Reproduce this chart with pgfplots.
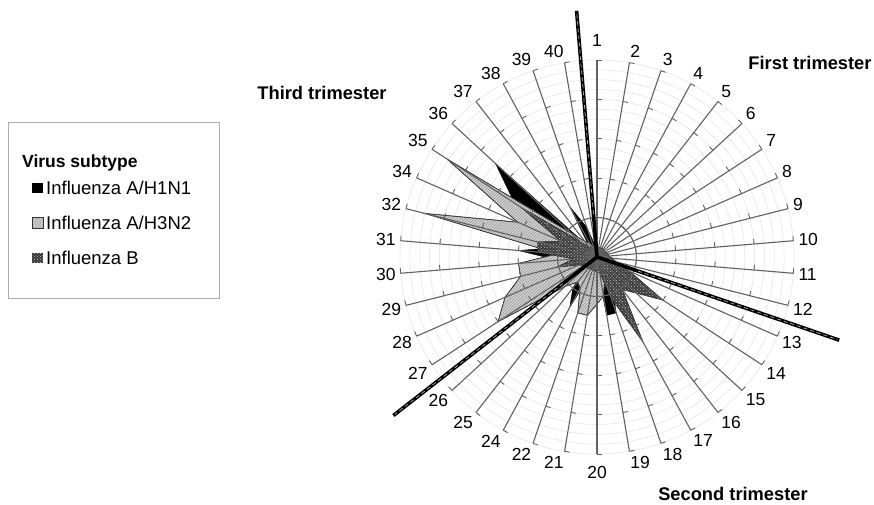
\documentclass[border=0pt]{standalone}
\usepackage{pgfplots}
\pgfplotsset{compat=1.18}
\usepackage{pgfplotstable}
\usepackage{fontspec}
\setmainfont{Liberation Sans}
\usetikzlibrary{patterns,calc}

% i = spoke index (0..37), clockwise from top; weeks 23 and 33 have no spoke
\pgfplotstableread{
i h1 h3 b
0 0.25 0.25 0.25
1 0.25 0.25 0.25
2 0.25 0.25 0.25
3 0.25 0.25 0.25
4 0.25 0.25 0.25
5 0.25 0.25 0.25
6 0.25 0.25 0.25
7 0.25 0.25 0.25
8 0.25 0.25 0.3
9 0.25 0.25 0.3
10 0.3 0.3 0.4
11 0.3 0.3 0.5
12 0.3 0.3 0.9
13 0.3 0.3 2.0
14 0.4 0.3 1.35
15 0.5 0.4 1.05
16 0.8 0.5 2.45
17 1.5 0.6 1.1
18 1.5 1.0 0.4
19 0.3 1.2 0.4
20 0.3 1.5 0.35
21 0.4 1.5 0.35
22 1.45 0.9 0.35
23 1.0 0.8 0.35
24 0.5 1.1 0.4
25 0.5 3.0 0.4
26 0.5 2.55 0.5
27 0.6 2.0 1.05
28 1.0 2.0 0.6
29 2.0 1.0 1.5
30 1.0 4.5 1.55
31 1.2 2.2 1.0
32 2.5 4.55 2.3
33 3.5 0.9 0.6
34 0.3 0.5 0.3
35 1.45 0.4 0.3
36 0.8 0.3 0.3
37 0.3 0.3 0.3
}\data

\begin{document}
\begin{tikzpicture}[x=1pt,y=1pt]
\begin{axis}[x=39.4pt, y=39.4pt, set layers,
  xmin=-6, xmax=6, ymin=-6, ymax=6, hide axis, clip=false]
\begin{pgfonlayer}{axis background}
  \pgfplotsinvokeforeach{0.25,0.5,0.75,1,1.25,1.5,1.75,2,2.25,2.5,2.75,3,3.25,3.5,3.75,4,4.25,4.5,4.75,5}{
    \draw[gray!18, line width=0.7pt] (axis cs:0,0) circle[radius=#1*39.4pt];
  }
\end{pgfonlayer}
\addplot[fill=black, draw=black, line width=0.4pt]
  table[x expr={\thisrow{h1}*sin(\thisrow{i}*360/38)},
        y expr={\thisrow{h1}*cos(\thisrow{i}*360/38)}] {\data} -- cycle;
\addplot[fill=gray!35, draw=gray!40!black, line width=0.6pt,
  postaction={pattern=north east lines, pattern color=gray!80}]
  table[x expr={\thisrow{h3}*sin(\thisrow{i}*360/38)},
        y expr={\thisrow{h3}*cos(\thisrow{i}*360/38)}] {\data} -- cycle;
\addplot[fill=black!78, draw=black!80, line width=0.5pt,
  postaction={pattern=crosshatch dots, pattern color=gray!45}]
  table[x expr={\thisrow{b}*sin(\thisrow{i}*360/38)},
        y expr={\thisrow{b}*cos(\thisrow{i}*360/38)}] {\data} -- cycle;
\coordinate (O) at (axis cs:0,0);
\end{axis}

% spokes, ticks, labels
\begin{scope}[shift={(O)}, x=39.4pt, y=39.4pt]
  \foreach \i in {0,...,37} {
    \pgfmathsetmacro{\a}{90-\i*360/38}
    \pgfmathsetmacro{\p}{(cos(\a-90)+sin(\a-90)>0) ? (\a-90) : (\a+90)}
    \draw[black!62, line width=1.1pt] (0,0) -- (\a:5);
    \foreach \r in {1,...,5}
      \draw[black!62, line width=0.9pt] (\a:\r) -- ++(\p:5pt);
  }
  \foreach \i/\lab in {1/2,2/3,3/4,4/5,5/6,6/7,7/8,8/9,9/10,10/11,11/12,12/13,
      13/14,14/15,15/16,16/17,17/18,18/19,20/21,21/22,22/24,23/25,24/26,25/27,
      26/28,27/29,28/30,29/31,30/32,31/34,32/35,33/36,34/37,35/38,36/39,37/40} {
    \pgfmathsetmacro{\a}{90-\i*360/38}
    \pgfmathsetmacro{\sy}{max(-1,min(1,sin(\a)/0.6))}
    \pgfmathtruncatemacro{\lft}{cos(\a)<0}
    \ifnum\lft=1 \def\anc{east}\else\def\anc{west}\fi
    \node[font=\fontsize{17.5}{20}\selectfont, inner sep=0pt, anchor=\anc,
          yshift={\sy*6.25pt}] at (\a:5.127) {\lab};
  }
  \node[font=\fontsize{17.5}{20}\selectfont, inner sep=0pt] at (90:5.5) {1};
  \node[font=\fontsize{17.5}{20}\selectfont, inner sep=0pt] at (-90:5.48) {20};
  \draw[black!60, line width=0.9pt] (0,0) circle[radius=1];
  % trimester boundaries
  \foreach \k/\len in {37.5/6.27, 11.5/6.5, 24.5/6.55} {
    \pgfmathsetmacro{\a}{90-\k*360/38}
    \draw[black, line width=3.6pt] (0,0) -- (\a:\len);
    \draw[gray!60, line width=0.7pt, dash pattern=on 4pt off 3pt] (\a:1.1) -- (\a:\len-0.05);
  }
\end{scope}

\begin{scope}[shift={($(O)+(-597,-247)$)}]
% trimester titles
\node[font=\fontsize{18.3}{21}\selectfont\bfseries, inner sep=0pt] at (322,411) {Third trimester};
\node[font=\fontsize{18.3}{21}\selectfont\bfseries, inner sep=0pt] at (810,441) {First trimester};
\node[font=\fontsize{18.3}{21}\selectfont\bfseries, inner sep=0pt] at (733,10) {Second trimester};

% legend
\draw[gray!65, line width=0.9pt] (8,206) rectangle (219,382);
\node[font=\fontsize{17.5}{20}\selectfont\bfseries, anchor=west, inner sep=0pt] at (22,341) {Virus subtype};
\fill[black] (32.5,311) rectangle (43,321.5);
\fill[gray!35] (32.5,276) rectangle (43,286.5);
\fill[pattern=north east lines, pattern color=gray!80] (32.5,276) rectangle (43,286.5);
\draw[gray!40!black, line width=0.4pt] (32.5,276) rectangle (43,286.5);
\fill[black!78] (32.5,241) rectangle (43,251.5);
\fill[pattern=crosshatch dots, pattern color=gray!45] (32.5,241) rectangle (43,251.5);
\node[font=\fontsize{18.5}{21}\selectfont, anchor=west, inner sep=0pt] at (46,316) {Influenza A/H1N1};
\node[font=\fontsize{18.5}{21}\selectfont, anchor=west, inner sep=0pt] at (46,281) {Influenza A/H3N2};
\node[font=\fontsize{18.5}{21}\selectfont, anchor=west, inner sep=0pt] at (46,246) {Influenza B};

\pgfresetboundingbox
\path[use as bounding box] (0,0) rectangle (874,504);
\end{scope}
\end{tikzpicture}
\end{document}
